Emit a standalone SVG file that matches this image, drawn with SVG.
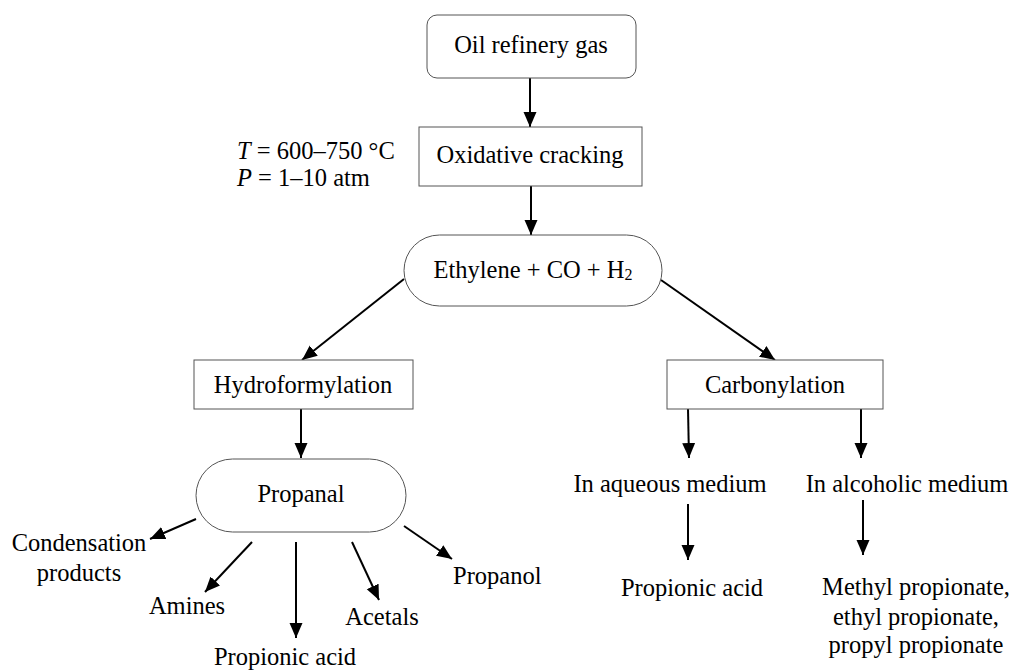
<svg xmlns="http://www.w3.org/2000/svg" width="1011" height="670" viewBox="0 0 1011 670">
<style>
.t{font-family:'Liberation Serif','Times New Roman',serif;font-size:24.5px;fill:#000}
.c{text-anchor:middle}
.box{fill:#fff;stroke:#555;stroke-width:1}
.ar{stroke:#000;stroke-width:2;fill:none;marker-end:url(#ah)}
</style>
<defs>
<marker id="ah" markerUnits="userSpaceOnUse" markerWidth="16" markerHeight="14" refX="15" refY="6.5" orient="auto">
<path d="M0,0 L15,6.5 L0,13 Z" fill="#000"/>
</marker>
</defs>
<rect width="1011" height="670" fill="#fff"/>
<g id="connectors">
<line class="ar" x1="530" y1="78" x2="530" y2="127"/>
<line class="ar" x1="531" y1="186" x2="531" y2="235"/>
<line class="ar" x1="404" y1="279" x2="302" y2="360"/>
<line class="ar" x1="661" y1="280" x2="775" y2="360"/>
<line class="ar" x1="301" y1="409" x2="301" y2="458"/>
<line class="ar" x1="688" y1="409" x2="689" y2="458"/>
<line class="ar" x1="861" y1="409" x2="861" y2="458"/>
<line class="ar" x1="688" y1="504" x2="688" y2="560"/>
<line class="ar" x1="863" y1="500" x2="863" y2="555"/>
<line class="ar" x1="196" y1="519" x2="150" y2="539"/>
<line class="ar" x1="252" y1="542" x2="205" y2="592"/>
<line class="ar" x1="296" y1="542" x2="296" y2="638"/>
<line class="ar" x1="352" y1="542" x2="379" y2="600"/>
<line class="ar" x1="404" y1="526" x2="452" y2="559"/>
</g>
<g class="t">
<g id="oil">
<rect class="box" x="427" y="15" width="209" height="63" rx="10"/>
<text class="c" x="531" y="53">Oil refinery gas</text>
</g>
<g id="cracking">
<rect class="box" x="419" y="127" width="223" height="59"/>
<text class="c" x="530" y="163">Oxidative cracking</text>
</g>
<g id="conditions">
<text x="237" y="159"><tspan font-style="italic">T</tspan> = 600–750 °C</text>
<text x="237" y="186"><tspan font-style="italic">P</tspan> = 1–10 atm</text>
</g>
<g id="ethylene">
<rect class="box" x="404" y="235" width="258" height="71" rx="35.5"/>
<text class="c" x="533" y="278">Ethylene + CO + H<tspan font-size="16" dy="2">2</tspan></text>
</g>
<g id="hydroformylation">
<rect class="box" x="194" y="360" width="219" height="49"/>
<text class="c" x="303" y="393">Hydroformylation</text>
</g>
<g id="carbonylation">
<rect class="box" x="667" y="360" width="216" height="49"/>
<text class="c" x="775" y="393">Carbonylation</text>
</g>
<g id="propanal">
<rect class="box" x="196" y="459" width="210" height="73" rx="36.5"/>
<text class="c" x="301" y="502">Propanal</text>
</g>
<g id="condensation">
<text class="c" x="79" y="551">Condensation</text>
<text class="c" x="79" y="581">products</text>
</g>
<g id="amines"><text class="c" x="187" y="614">Amines</text></g>
<g id="propionic1"><text class="c" x="285" y="665">Propionic acid</text></g>
<g id="acetals"><text class="c" x="382" y="625">Acetals</text></g>
<g id="propanol"><text x="453" y="584">Propanol</text></g>
<g id="aqueous"><text class="c" x="670" y="492">In aqueous medium</text></g>
<g id="alcoholic"><text class="c" x="907" y="492">In alcoholic medium</text></g>
<g id="propionic2"><text class="c" x="692" y="596">Propionic acid</text></g>
<g id="esters">
<text class="c" x="916" y="595">Methyl propionate,</text>
<text class="c" x="916" y="625">ethyl propionate,</text>
<text class="c" x="916" y="653">propyl propionate</text>
</g>
</g>
</svg>
